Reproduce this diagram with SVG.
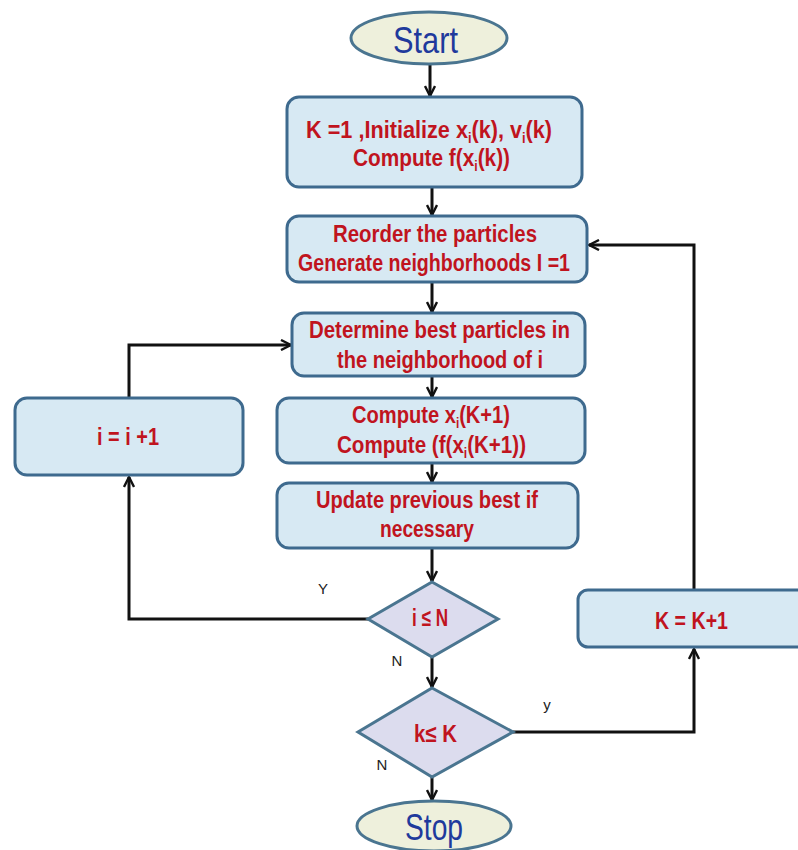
<svg xmlns="http://www.w3.org/2000/svg" width="798" height="850" viewBox="0 0 798 850">
  <defs>
    <marker id="arrow" viewBox="0 0 12 12" refX="11" refY="6" markerWidth="12" markerHeight="12" markerUnits="userSpaceOnUse" orient="auto">
      <path d="M1,1 L11,6 L1,11" fill="none" stroke="#111" stroke-width="2.4"/>
    </marker>
    <style>
      .box { fill: #d7e9f3; stroke: #3e6a8e; stroke-width: 3; }
      .term { fill: #eef0dc; stroke: #4a7590; stroke-width: 3; }
      .dec { fill: #dcdcee; stroke: #4a7590; stroke-width: 3; }
      .lbl { font-family: "Liberation Sans", Arial, sans-serif; font-weight: bold; fill: #c0141e; font-size: 24px; }
      .termtxt { font-family: "Liberation Sans", Arial, sans-serif; fill: #1f3a9c; font-size: 36px; }
      .yn { font-family: "Liberation Sans", Arial, sans-serif; fill: #222; font-size: 15px; text-anchor: middle; }
      .conn { fill: none; stroke: #111; stroke-width: 3; }
    </style>
  </defs>
  <rect width="798" height="850" fill="#ffffff"/>

  <!-- connectors -->
  <g id="connectors">
    <path class="conn" d="M430,64 L430,96" marker-end="url(#arrow)"/>
    <path class="conn" d="M432,188 L432,215" marker-end="url(#arrow)"/>
    <path class="conn" d="M432,283 L432,312" marker-end="url(#arrow)"/>
    <path class="conn" d="M432,377 L432,397" marker-end="url(#arrow)"/>
    <path class="conn" d="M432,464 L432,482" marker-end="url(#arrow)"/>
    <path class="conn" d="M432,549 L432,581" marker-end="url(#arrow)"/>
    <path class="conn" d="M368,619 L129,619 L129,477" marker-end="url(#arrow)"/>
    <path class="conn" d="M129,398 L129,345 L291,345" marker-end="url(#arrow)"/>
    <path class="conn" d="M432,657 L432,687" marker-end="url(#arrow)"/>
    <path class="conn" d="M513,732 L694,732 L694,649" marker-end="url(#arrow)"/>
    <path class="conn" d="M694,590 L694,245 L589,245" marker-end="url(#arrow)"/>
    <path class="conn" d="M432,777 L432,800" marker-end="url(#arrow)"/>
  </g>

  <g id="start">
    <ellipse class="term" cx="429" cy="38" rx="78" ry="26"/>
    <text class="termtxt" x="393" y="53" textLength="65" lengthAdjust="spacingAndGlyphs">Start</text>
  </g>

  <g id="init">
    <rect class="box" x="287" y="97" width="295" height="90" rx="12"/>
    <text class="lbl" x="306" y="138" textLength="246" lengthAdjust="spacingAndGlyphs">K =1  ,Initialize x<tspan font-size="14" dy="5">i</tspan><tspan dy="-5">(k), v</tspan><tspan font-size="14" dy="5">i</tspan><tspan dy="-5">(k)</tspan></text>
    <text class="lbl" x="353" y="166" textLength="157" lengthAdjust="spacingAndGlyphs">Compute f(x<tspan font-size="14" dy="5">i</tspan><tspan dy="-5">(k))</tspan></text>
  </g>

  <g id="reorder">
    <rect class="box" x="287" y="216" width="300" height="66" rx="12"/>
    <text class="lbl" x="333" y="242" textLength="204" lengthAdjust="spacingAndGlyphs">Reorder the particles</text>
    <text class="lbl" x="298" y="271" textLength="272" lengthAdjust="spacingAndGlyphs">Generate neighborhoods I =1</text>
  </g>

  <g id="determine">
    <rect class="box" x="292" y="313" width="293" height="63" rx="12"/>
    <text class="lbl" x="309" y="338" textLength="261" lengthAdjust="spacingAndGlyphs">Determine best particles in</text>
    <text class="lbl" x="337" y="368" textLength="206" lengthAdjust="spacingAndGlyphs">the neighborhood of i</text>
  </g>

  <g id="incr-i">
    <rect class="box" x="15" y="398" width="228" height="77" rx="12"/>
    <text class="lbl" x="97" y="445" textLength="62" lengthAdjust="spacingAndGlyphs">i = i +1</text>
  </g>

  <g id="compute">
    <rect class="box" x="277" y="398" width="308" height="65" rx="12"/>
    <text class="lbl" x="352" y="423" textLength="158" lengthAdjust="spacingAndGlyphs">Compute x<tspan font-size="14" dy="5">i</tspan><tspan dy="-5">(K+1)</tspan></text>
    <text class="lbl" x="337" y="453" textLength="189" lengthAdjust="spacingAndGlyphs">Compute (f(x<tspan font-size="14" dy="5">i</tspan><tspan dy="-5">(K+1))</tspan></text>
  </g>

  <g id="update">
    <rect class="box" x="277" y="483" width="301" height="65" rx="12"/>
    <text class="lbl" x="316" y="508" textLength="222" lengthAdjust="spacingAndGlyphs">Update previous best if</text>
    <text class="lbl" x="380" y="537" textLength="94" lengthAdjust="spacingAndGlyphs">necessary</text>
  </g>

  <g id="check-i">
    <polygon class="dec" points="432,582 498,619 432,657 368,619"/>
    <text class="lbl" x="412" y="626" font-size="17" font-weight="normal" textLength="36" lengthAdjust="spacingAndGlyphs">i ≤ N</text>
  </g>

  <g id="check-k">
    <polygon class="dec" points="432,688 513,732 432,777 358,732"/>
    <text class="lbl" x="414" y="742" font-size="25" font-weight="normal" textLength="43" lengthAdjust="spacingAndGlyphs">k≤ K</text>
  </g>

  <g id="incr-k">
    <rect class="box" x="578" y="590" width="232" height="57" rx="10"/>
    <text class="lbl" x="655" y="629" textLength="73" lengthAdjust="spacingAndGlyphs">K = K+1</text>
  </g>

  <g id="stop">
    <ellipse class="term" cx="434" cy="826" rx="77" ry="25"/>
    <text class="termtxt" x="405" y="840" textLength="58" lengthAdjust="spacingAndGlyphs">Stop</text>
  </g>

  <g id="branch-labels">
    <text class="yn" x="323" y="594">Y</text>
    <text class="yn" x="397" y="666">N</text>
    <text class="yn" x="547" y="710">y</text>
    <text class="yn" x="382" y="770">N</text>
  </g>
</svg>
